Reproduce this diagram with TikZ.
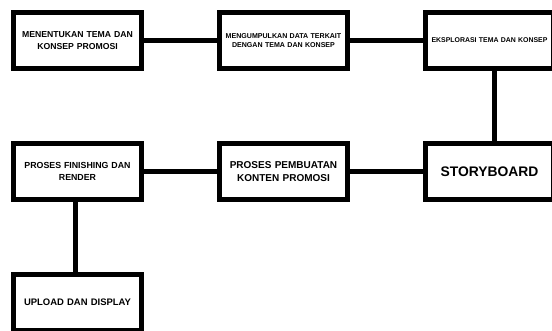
\documentclass[tikz,border=0pt]{standalone}
\usepackage{fontspec}
\setmainfont{Liberation Sans}
\usetikzlibrary{positioning}

\newcommand{\fsz}[2]{\bfseries\fontsize{#1}{#2}\selectfont}

\begin{document}
\begin{tikzpicture}[node distance=52.5pt and 54.75pt,
                    every node/.style={rectangle, draw, fill=white, line width=3.75pt,
                      minimum width=96pt, minimum height=42pt, align=center,
                      inner sep=2pt, text width=92pt},
                    link/.style={line width=3.75pt}]

\useasboundingbox (0,0) rectangle (414pt,-248.25pt);

% Nodes
\node (tema) at (58.125pt,-30.375pt) [font=\fsz{6.5}{9}] {MENENTUKAN TEMA DAN\\KONSEP PROMOSI};
\node (data) [right=of tema, font=\fsz{5.3}{7}] {MENGUMPULKAN DATA TERKAIT\\DENGAN TEMA DAN KONSEP};
\node (eksplor) [right=of data, font=\fsz{5.2}{7}] {EKSPLORASI TEMA DAN KONSEP};
\node (story) [below=of eksplor, font=\fsz{10.4}{12}] {STORYBOARD};
\node (konten) [left=of story, font=\fsz{7.5}{9.5}] {PROSES PEMBUATAN\\KONTEN PROMOSI};
\node (finish) [left=of konten, font=\fsz{6.6}{9}] {PROSES FINISHING DAN\\RENDER};
\node (upload) [below=of finish, font=\fsz{7.1}{9}] {UPLOAD DAN DISPLAY};

% Edges
\draw[link] (tema) -- (data);
\draw[link] (data) -- (eksplor);
\draw[link] ([xshift=4pt]eksplor.south) -- ([xshift=4pt]story.north);
\draw[link] (story) -- (konten);
\draw[link] (konten) -- (finish);
\draw[link] ([xshift=-1.5pt]finish.south) -- ([xshift=-1.5pt]upload.north);

\end{tikzpicture}
\end{document}
